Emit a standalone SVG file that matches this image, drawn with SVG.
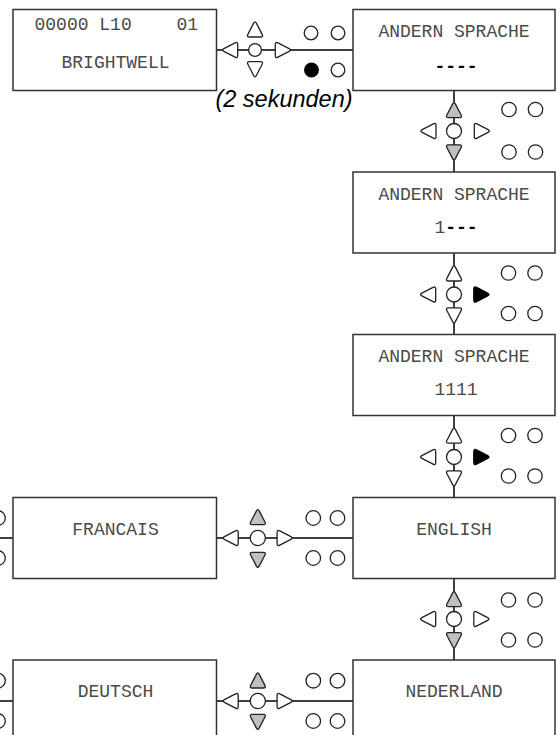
<svg xmlns="http://www.w3.org/2000/svg" xmlns:xlink="http://www.w3.org/1999/xlink" width="560" height="735" viewBox="0 0 560 735">
<style>
.box{fill:#fff;stroke:#333;stroke-width:1.5}
.t{font-family:"Liberation Mono","Courier New",monospace;font-size:18px;fill:#4a4a4a}
.b{font-weight:bold;fill:#000}
.ln{stroke:#000;stroke-width:1.5;fill:none}
.k{fill:#fff;stroke:#222;stroke-width:1.3}
.g{fill:#c0c0c0;stroke:#222;stroke-width:1.3}
.f{fill:#000;stroke:#000;stroke-width:1.3}
.note{font-family:"Liberation Sans",Arial,sans-serif;font-style:italic;font-size:23.5px;fill:#000}
</style>
<defs>
<path id="tri" d="M1.37,-6.13 L7.13,5.03 Q8.5,7.7 5.5,7.7 L-5.5,7.7 Q-8.5,7.7 -7.13,5.03 L-1.37,-6.13 Q0,-8.8 1.37,-6.13 Z"/>
</defs>
<rect width="560" height="735" fill="#fff"/>

<g id="connectors">
<line class="ln" x1="216.5" y1="50" x2="353" y2="50"/>
<line class="ln" x1="454" y1="90" x2="454" y2="172"/>
<line class="ln" x1="454" y1="253" x2="454" y2="335"/>
<line class="ln" x1="454" y1="415" x2="454" y2="498"/>
<line class="ln" x1="454" y1="578" x2="454" y2="660"/>
<line class="ln" x1="216.5" y1="538" x2="353" y2="538"/>
<line class="ln" x1="0" y1="538" x2="13" y2="538"/>
<line class="ln" x1="216.5" y1="701" x2="353" y2="701"/>
<line class="ln" x1="0" y1="701" x2="13" y2="701"/>
</g>

<g id="node-brightwell">
<rect class="box" x="13" y="9.5" width="203.5" height="81"/>
<text class="t" x="34.5" y="30">00000 L10</text>
<text class="t" x="176.5" y="30">01</text>
<text class="t" x="115.5" y="68" text-anchor="middle">BRIGHTWELL</text>
</g>

<g id="node-sprache1">
<rect class="box" x="353" y="9.5" width="202" height="81"/>
<text class="t" x="454" y="37" text-anchor="middle">ANDERN SPRACHE</text>
<text class="t b" x="456" y="72" text-anchor="middle">----</text>
</g>

<g id="node-sprache2">
<rect class="box" x="353" y="172" width="202" height="81"/>
<text class="t" x="454" y="200" text-anchor="middle">ANDERN SPRACHE</text>
<text class="t" x="456" y="233" text-anchor="middle">1<tspan class="b">---</tspan></text>
</g>

<g id="node-sprache3">
<rect class="box" x="353" y="334.5" width="202" height="81"/>
<text class="t" x="454" y="362" text-anchor="middle">ANDERN SPRACHE</text>
<text class="t" x="456" y="395" text-anchor="middle">1111</text>
</g>

<g id="node-english">
<rect class="box" x="353" y="497.5" width="202" height="81"/>
<text class="t" x="454" y="535" text-anchor="middle">ENGLISH</text>
</g>

<g id="node-francais">
<rect class="box" x="13" y="497.5" width="203.5" height="81"/>
<text class="t" x="115.5" y="535" text-anchor="middle">FRANCAIS</text>
</g>

<g id="node-nederland">
<rect class="box" x="353" y="660" width="202" height="90"/>
<text class="t" x="454" y="697" text-anchor="middle">NEDERLAND</text>
</g>

<g id="node-deutsch">
<rect class="box" x="13" y="660" width="203.5" height="90"/>
<text class="t" x="115.5" y="697" text-anchor="middle">DEUTSCH</text>
</g>

<g id="keys-top">
<use href="#tri" class="k" transform="translate(230,50) rotate(-90)"/>
<circle class="k" cx="255" cy="50" r="6.4"/>
<use href="#tri" class="k" transform="translate(283,50) rotate(90)"/>
<use href="#tri" class="k" transform="translate(255,29.3)"/>
<use href="#tri" class="k" transform="translate(255,69.3) rotate(180)"/>
<circle class="k" cx="311" cy="33" r="6.8"/>
<circle class="k" cx="338" cy="33" r="6.8"/>
<circle class="f" cx="311.5" cy="70" r="6.8"/>
<circle class="k" cx="338" cy="70" r="6.8"/>
</g>
<text id="label-2s" class="note" x="284" y="107" text-anchor="middle">(2 sekunden)</text>

<g id="keys-v1">
<use href="#tri" class="g" transform="translate(454,110)"/>
<circle class="k" cx="454" cy="131" r="7.5"/>
<use href="#tri" class="g" transform="translate(454,152.5) rotate(180)"/>
<use href="#tri" class="k" transform="translate(428.3,131) rotate(-90)"/>
<use href="#tri" class="k" transform="translate(482,131) rotate(90)"/>
<circle class="k" cx="509" cy="109.5" r="7.2"/>
<circle class="k" cx="535.5" cy="109.5" r="7.2"/>
<circle class="k" cx="509" cy="152" r="7.2"/>
<circle class="k" cx="535.5" cy="152" r="7.2"/>
</g>

<g id="keys-v2">
<use href="#tri" class="k" transform="translate(454,273.3)"/>
<circle class="k" cx="454" cy="294.5" r="7.5"/>
<use href="#tri" class="k" transform="translate(454,315.5) rotate(180)"/>
<use href="#tri" class="k" transform="translate(428,294.5) rotate(-90)"/>
<use href="#tri" class="f" transform="translate(481.5,294.5) rotate(90)"/>
<circle class="k" cx="508.5" cy="273" r="7.2"/>
<circle class="k" cx="535" cy="273" r="7.2"/>
<circle class="k" cx="508.5" cy="313.5" r="7.2"/>
<circle class="k" cx="535" cy="313.5" r="7.2"/>
</g>

<g id="keys-v3">
<use href="#tri" class="k" transform="translate(454,435.5)"/>
<circle class="k" cx="454" cy="457" r="7.5"/>
<use href="#tri" class="k" transform="translate(454,478.5) rotate(180)"/>
<use href="#tri" class="k" transform="translate(428,457) rotate(-90)"/>
<use href="#tri" class="f" transform="translate(481.5,457) rotate(90)"/>
<circle class="k" cx="508.5" cy="435.5" r="7.2"/>
<circle class="k" cx="535" cy="435.5" r="7.2"/>
<circle class="k" cx="508.5" cy="476" r="7.2"/>
<circle class="k" cx="535" cy="476" r="7.2"/>
</g>

<g id="keys-v4">
<use href="#tri" class="g" transform="translate(454,599)"/>
<circle class="k" cx="454" cy="619" r="7.5"/>
<use href="#tri" class="g" transform="translate(454,640.3) rotate(180)"/>
<use href="#tri" class="k" transform="translate(428,619) rotate(-90)"/>
<use href="#tri" class="k" transform="translate(481.5,619) rotate(90)"/>
<circle class="k" cx="508.5" cy="600" r="7.2"/>
<circle class="k" cx="535" cy="600" r="7.2"/>
<circle class="k" cx="508.5" cy="640" r="7.2"/>
<circle class="k" cx="535" cy="640" r="7.2"/>
</g>

<g id="keys-h1">
<use href="#tri" class="k" transform="translate(230.5,538) rotate(-90)"/>
<circle class="k" cx="257.8" cy="538" r="7.6"/>
<use href="#tri" class="k" transform="translate(284.8,538) rotate(90)"/>
<use href="#tri" class="g" transform="translate(257.8,517)"/>
<use href="#tri" class="g" transform="translate(257.8,560) rotate(180)"/>
<circle class="k" cx="313.3" cy="518" r="7.3"/>
<circle class="k" cx="337.5" cy="518" r="7.3"/>
<circle class="k" cx="313.3" cy="558" r="7.3"/>
<circle class="k" cx="337.5" cy="558" r="7.3"/>
</g>

<g id="keys-h2">
<use href="#tri" class="k" transform="translate(230.5,701) rotate(-90)"/>
<circle class="k" cx="257.8" cy="701" r="7.6"/>
<use href="#tri" class="k" transform="translate(284.8,701) rotate(90)"/>
<use href="#tri" class="g" transform="translate(257.8,680.3)"/>
<use href="#tri" class="g" transform="translate(257.8,722) rotate(180)"/>
<circle class="k" cx="313.3" cy="680.7" r="7.3"/>
<circle class="k" cx="337.5" cy="680.7" r="7.3"/>
<circle class="k" cx="313.3" cy="721" r="7.3"/>
<circle class="k" cx="337.5" cy="721" r="7.3"/>
</g>

<g id="keys-left">
<circle class="k" cx="-2" cy="518" r="7.3"/>
<circle class="k" cx="-2" cy="558" r="7.3"/>
<circle class="k" cx="-2" cy="680.7" r="7.3"/>
<circle class="k" cx="-2" cy="721" r="7.3"/>
</g>
</svg>
